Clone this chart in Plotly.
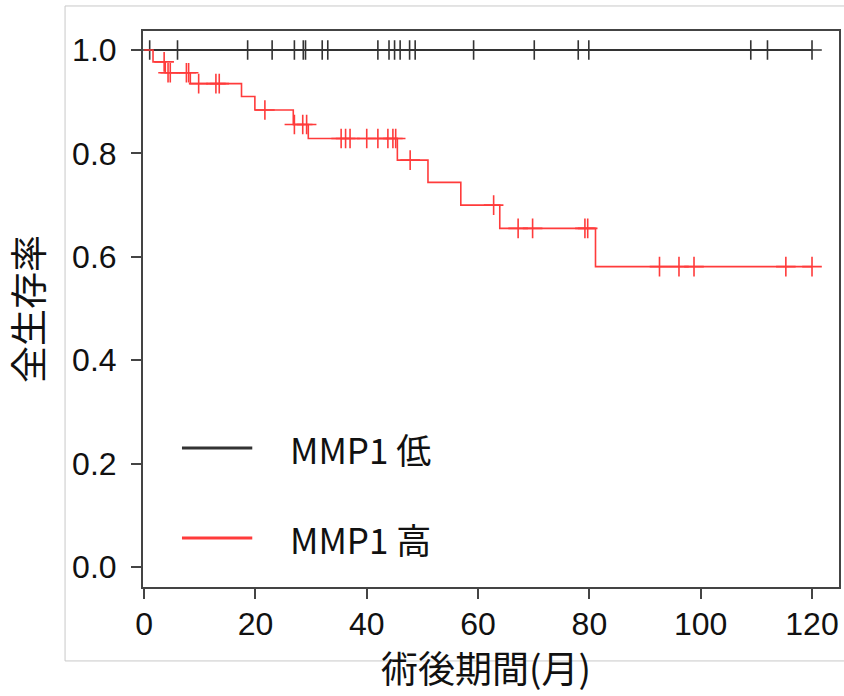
import numpy as np
import plotly.graph_objects as go

# ---- data ----
low_name = "MMP1 低"
high_name = "MMP1 高"
x_title = "術後期間(月)"
y_title = "全生存率"

# MMP1 low: no events, survival stays at 1.0; censor times (months)
low_censor_t = [1, 6, 18.6, 23, 27, 28.6, 29, 32, 33, 42, 44, 45, 46, 47.7, 48.7,
                59.2, 70.1, 78, 79.9, 109, 112, 120]
low_end = 120

# MMP1 high: step function (event times, survival after the step)
high_step_t = [0, 1.6, 3.8, 8.3, 17.5, 19.9, 26.8, 29.5, 45.5, 51.0, 56.9, 63.9, 81.1]
high_step_s = [1.0, 0.977, 0.956, 0.935, 0.910, 0.884, 0.856, 0.829, 0.787, 0.744,
               0.700, 0.655, 0.581]
high_end = 120
high_censor_t = [3.6, 4.3, 4.7, 7.6, 8.0, 9.8, 12.9, 13.5, 21.7, 27.0, 28.5, 29.2,
                 35.4, 36.2, 37.0, 40.0, 42.0, 43.8, 44.7, 45.2, 47.8, 62.8, 67.2,
                 69.8, 79.2, 79.7, 92.6, 96.1, 98.8, 115.3, 120]

x_ticks = [0, 20, 40, 60, 80, 100, 120]
y_ticks = [0.0, 0.2, 0.4, 0.6, 0.8, 1.0]
y_ticktext = ["0.0", "0.2", "0.4", "0.6", "0.8", "1.0"]

BLACK = "#333333"
RED = "#ff3b3b"


def surv_at(t, st, ss):
    idx = np.searchsorted(np.array(st), np.array(t), side="right") - 1
    return np.array(ss)[idx]


fig = go.Figure()

# low curve
fig.add_trace(go.Scatter(x=[0, low_end], y=[1.0, 1.0], mode="lines", name=low_name,
                         line=dict(color=BLACK, width=2), showlegend=False))
fig.add_trace(go.Scatter(x=low_censor_t, y=[1.0] * len(low_censor_t), mode="markers",
                         marker=dict(symbol="cross-thin", size=14,
                                     line=dict(color=BLACK, width=1.6)),
                         showlegend=False, name=low_name))

# high curve
hx = list(high_step_t) + [high_end]
hy = list(high_step_s) + [high_step_s[-1]]
fig.add_trace(go.Scatter(x=hx, y=hy, mode="lines", line_shape="hv", name=high_name,
                         line=dict(color=RED, width=1.6), showlegend=False))
fig.add_trace(go.Scatter(x=high_censor_t, y=surv_at(high_censor_t, high_step_t, high_step_s),
                         mode="markers",
                         marker=dict(symbol="cross-thin", size=14,
                                     line=dict(color=RED, width=1.6)),
                         showlegend=False, name=high_name))

# manual legend (long line samples like the reference)
legend_items = [(low_name, BLACK, 0.25), (high_name, RED, 0.088)]
for name, col, yy in legend_items:
    fig.add_shape(type="line", xref="paper", yref="paper", x0=0.056, x1=0.157,
                  y0=yy, y1=yy, line=dict(color=col, width=3))
    fig.add_annotation(xref="paper", yref="paper", x=0.208, y=yy, xanchor="left",
                       yanchor="middle", text=name, showarrow=False,
                       font=dict(family="Noto Sans CJK JP", size=35, color="#111"))

# x-axis title placed below the tick labels, as in the reference
fig.add_annotation(xref="paper", yref="paper", x=0.493, y=-0.196, xanchor="center",
                   yanchor="bottom", text=x_title, showarrow=False,
                   font=dict(family="Noto Sans CJK JP", size=37, color="#111"))

# outer light frame
fig.add_shape(type="rect", xref="paper", yref="paper", x0=-0.112, x1=1.05,
              y0=-0.133, y1=1.045, line=dict(color="#c8c8c8", width=1), layer="below")

tickfont = dict(family="Liberation Sans, Arial, sans-serif", size=32, color="#111")

fig.update_layout(
    width=844, height=696, autosize=False,
    margin=dict(l=143, r=5, t=31, b=109, autoexpand=False),
    paper_bgcolor="white", plot_bgcolor="white",
    showlegend=False,
    xaxis=dict(range=[-0.2, 124.85], tickvals=x_ticks, ticks="outside", ticklen=10,
               tickwidth=1.5, tickcolor="#444", showline=True, linecolor="#444",
               linewidth=2, mirror=True, showgrid=False, zeroline=False,
               tickfont=tickfont, ticklabelstandoff=-2, automargin=False),
    yaxis=dict(range=[-0.0387, 1.0368], tickvals=y_ticks, ticktext=y_ticktext,
               ticks="outside", ticklen=10, tickwidth=1.5, tickcolor="#444",
               showline=True, linecolor="#444", linewidth=2, mirror=True,
               showgrid=False, zeroline=False, tickfont=tickfont, ticklabelstandoff=8,
               automargin=False,
               title=dict(text=y_title, standoff=22,
                          font=dict(family="Noto Sans CJK JP", size=37, color="#111"))),
)

fig.write_html("out.html",
               post_script="document.body.style.margin='0';document.body.style.overflow='hidden';",
               config={"displayModeBar": False})
